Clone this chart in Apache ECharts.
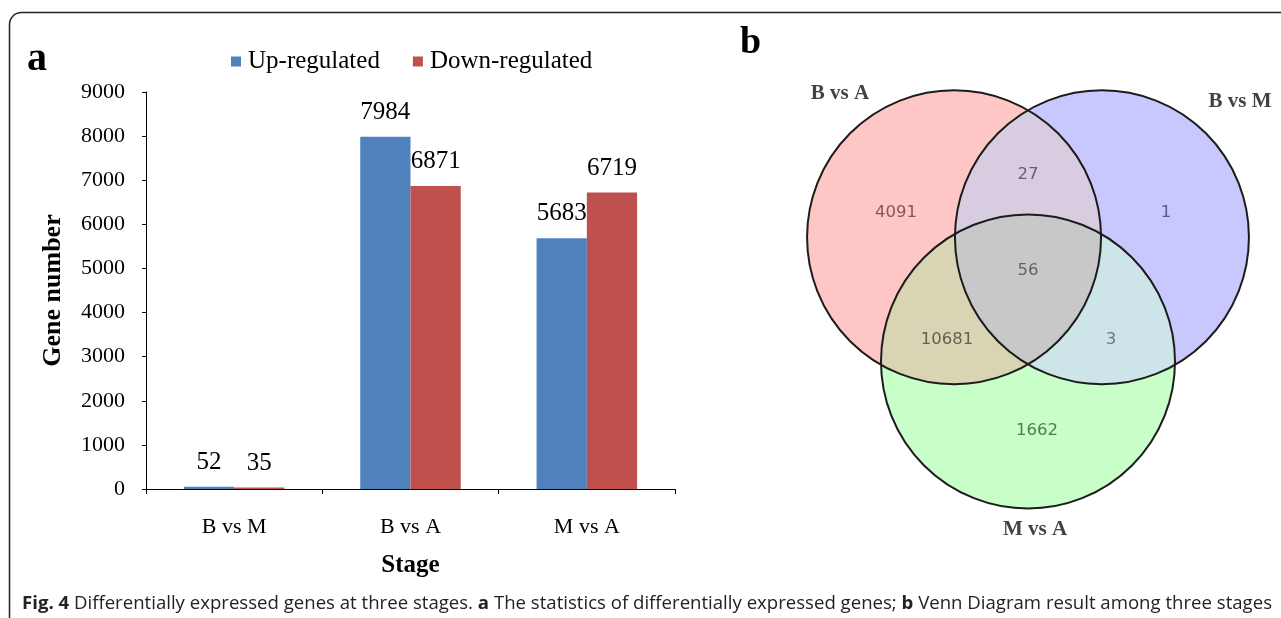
<!DOCTYPE html>
<html>
<head>
<meta charset="utf-8">
<script src="https://cdn.jsdelivr.net/npm/echarts@6/dist/echarts.min.js"></script>
<style>
  html, body { margin: 0; padding: 0; background: #fff; }
  #main { width: 1281px; height: 618px; }
</style>
</head>
<body>
<div id="main"></div>
<script>
// Panel a: differentially expressed genes per comparison
const categories = ['B vs M', 'B vs A', 'M vs A'];
const upRegulated = [52, 7984, 5683];
const downRegulated = [35, 6871, 6719];
const seriesNames = ['Up-regulated', 'Down-regulated'];
const yMax = 9000;
const yStep = 1000;

// Panel b: Venn diagram of the three comparisons
const vennSetNames = ['B vs A', 'B vs M', 'M vs A'];
const vennRegionKeys = ['A', 'AB', 'B', 'ABC', 'AC', 'BC', 'C'];
const vennRegionCounts = [4091, 27, 1, 56, 10681, 3, 1662];

// Venn geometry, in units of one circle radius
const VENN_CENTERS = [[-0.503, 0.42], [0.503, 0.42], [0, -0.425]];
const VENN_COUNT_POS = {
  A: [-0.898, 0.585], AB: [0, 0.844], B: [0.939, 0.585], ABC: [0, 0.19],
  AC: [-0.551, -0.279], BC: [0.565, -0.279], C: [0.061, -0.898]
};
const VENN_NAME_POS = [[-1.279, 1.395], [1.442, 1.34], [0.048, -1.571]];
const VENN_FILL = {
  A: '#ffc6c6', B: '#c8c8fe', C: '#c8fec8',
  AB: '#d8cde0', AC: '#d8d4b4', BC: '#cde4e8', ABC: '#c8c8c8'
};
const VENN_TEXT = {
  A: '#6e3a3a', AB: '#4d3e5c', B: '#3c3c7a', ABC: '#4a4a4a',
  AC: '#4b4232', BC: '#4c5c6c', C: '#2c5e2c'
};
const VENN_SCALE = 147;        // pixels per radius unit
const VENN_ORIGIN = [1028, 299];
const VX = [-2, 1.7], VY = [-2, 2];

const serif = 'Liberation Serif';

function circleMeet(p, q, R) {
  const dx = q[0] - p[0], dy = q[1] - p[1];
  const d = Math.hypot(dx, dy);
  const h = Math.sqrt(Math.max(R * R - d * d / 4, 0));
  const mx = (p[0] + q[0]) / 2, my = (p[1] + q[1]) / 2;
  const ux = -dy / d, uy = dx / d;
  return [[mx + ux * h, my + uy * h], [mx - ux * h, my - uy * h]];
}
function inside(pt, c, R) { return Math.hypot(pt[0] - c[0], pt[1] - c[1]) < R; }
function pt(p) { return p[0].toFixed(2) + ' ' + p[1].toFixed(2); }

function renderVenn(params, api) {
  const P = VENN_CENTERS.map(c => api.coord(c));
  const R = api.size([1, 0])[0];
  const arc = (s, to) => ' A ' + R.toFixed(2) + ' ' + R.toFixed(2) + ' 0 0 ' + s + ' ' + pt(to);
  const lens = (i, j) => {
    const m = circleMeet(P[i], P[j], R);
    return 'M ' + pt(m[0]) + arc(1, m[1]) + arc(1, m[0]) + ' Z';
  };
  const pick = (i, j, k) => circleMeet(P[i], P[j], R).find(x => inside(x, P[k], R + 0.5));
  const vBC = pick(1, 2, 0), vAC = pick(0, 2, 1), vAB = pick(0, 1, 2);
  const cross = (vAC[0] - vBC[0]) * (vAB[1] - vBC[1]) - (vAC[1] - vBC[1]) * (vAB[0] - vBC[0]);
  const s = cross > 0 ? 1 : 0;
  const triple = 'M ' + pt(vBC) + arc(s, vAC) + arc(s, vAB) + arc(s, vBC) + ' Z';

  const children = [];
  ['A', 'B', 'C'].forEach((k, i) => children.push({
    type: 'circle', shape: { cx: P[i][0], cy: P[i][1], r: R }, style: { fill: VENN_FILL[k] }
  }));
  [['AB', 0, 1], ['AC', 0, 2], ['BC', 1, 2]].forEach(([k, i, j]) => children.push({
    type: 'path', shape: { pathData: lens(i, j) }, style: { fill: VENN_FILL[k] }
  }));
  children.push({ type: 'path', shape: { pathData: triple }, style: { fill: VENN_FILL.ABC } });
  P.forEach(c => children.push({
    type: 'circle', shape: { cx: c[0], cy: c[1], r: R },
    style: { fill: 'none', stroke: '#1c1c1c', lineWidth: 2 }
  }));
  return { type: 'group', children };
}

const chart = echarts.init(document.getElementById('main'), null, { renderer: 'canvas' });

const barLabel = {
  show: true, position: 'top', distance: 12,
  fontFamily: serif, fontSize: 25, color: '#000'
};

const option = {
  animation: false,
  backgroundColor: '#fff',
  textStyle: { fontFamily: serif },
  legend: {
    data: seriesNames,
    left: 231, top: 49, padding: 0,
    itemWidth: 10, itemHeight: 10, itemGap: 33,
    icon: 'rect',
    textStyle: { fontFamily: serif, fontSize: 25, color: '#000', padding: [0, 0, 0, 2] }
  },
  grid: [
    { left: 146, top: 92, width: 529, height: 397 },
    {
      left: VENN_ORIGIN[0] + VX[0] * VENN_SCALE,
      top: VENN_ORIGIN[1] - VY[1] * VENN_SCALE,
      width: (VX[1] - VX[0]) * VENN_SCALE,
      height: (VY[1] - VY[0]) * VENN_SCALE
    }
  ],
  xAxis: [
    {
      type: 'category', data: categories, gridIndex: 0,
      name: 'Stage', nameLocation: 'middle', nameGap: 64,
      nameTextStyle: { fontFamily: serif, fontSize: 25, fontWeight: 'bold', color: '#000' },
      axisLine: { lineStyle: { color: '#000', width: 1 } },
      axisTick: { show: true, length: 5, inside: false, lineStyle: { color: '#000' } },
      axisLabel: { fontFamily: serif, fontSize: 22, color: '#000', margin: 27 }
    },
    { type: 'value', gridIndex: 1, min: VX[0], max: VX[1], show: false }
  ],
  yAxis: [
    {
      type: 'value', gridIndex: 0, min: 0, max: yMax, interval: yStep,
      name: 'Gene number', nameLocation: 'middle', nameGap: 80, nameRotate: 90,
      nameTextStyle: { fontFamily: serif, fontSize: 26, fontWeight: 'bold', color: '#000' },
      axisLine: { show: true, lineStyle: { color: '#000', width: 1 } },
      axisTick: { show: true, length: 4, lineStyle: { color: '#000' } },
      axisLabel: {
        fontFamily: serif, fontSize: 22, color: '#000', margin: 21,
        formatter: v => String(v)
      },
      splitLine: { show: false }
    },
    { type: 'value', gridIndex: 1, min: VY[0], max: VY[1], show: false }
  ],
  series: [
    {
      name: seriesNames[0], type: 'bar', data: upRegulated,
      xAxisIndex: 0, yAxisIndex: 0,
      barGap: '0%', barCategoryGap: '43%',
      itemStyle: { color: '#4f81bd' }, label: barLabel
    },
    {
      name: seriesNames[1], type: 'bar', data: downRegulated,
      xAxisIndex: 0, yAxisIndex: 0,
      itemStyle: { color: '#c0504d' }, label: barLabel
    },
    {
      type: 'custom', xAxisIndex: 1, yAxisIndex: 1, clip: false, silent: true,
      data: [[0, 0]], renderItem: renderVenn, z: 1
    },
    {
      type: 'scatter', xAxisIndex: 1, yAxisIndex: 1, symbolSize: 0, silent: true, z: 5,
      data: vennRegionKeys.map((k, i) => ({
        value: [VENN_COUNT_POS[k][0], VENN_COUNT_POS[k][1], vennRegionCounts[i]],
        label: { color: VENN_TEXT[k] }
      })),
      label: {
        show: true, position: 'inside', formatter: p => String(p.value[2]),
        fontFamily: 'DejaVu Sans', fontSize: 16.5
      }
    },
    {
      type: 'scatter', xAxisIndex: 1, yAxisIndex: 1, symbolSize: 0, silent: true, z: 5,
      data: vennSetNames.map((n, i) => ({ value: VENN_NAME_POS[i], name: n })),
      label: {
        show: true, position: 'inside', formatter: p => p.name,
        fontFamily: serif, fontSize: 21, fontWeight: 'bold', color: '#111'
      }
    }
  ],
  graphic: [
    {
      type: 'rect', z: -10, silent: true,
      shape: { x: 9.5, y: 12.5, width: 1300, height: 640, r: 12 },
      style: { fill: 'none', stroke: '#222', lineWidth: 1.5 }
    },
    {
      type: 'text', left: 27, top: 40,
      style: { text: 'a', fontFamily: serif, fontSize: 40, fontWeight: 'bold', fill: '#000' }
    },
    {
      type: 'text', left: 740, top: 24,
      style: { text: 'b', fontFamily: serif, fontSize: 38, fontWeight: 'bold', fill: '#000' }
    },
    {
      type: 'text', left: 22, top: 594,
      style: {
        text: '{b|Fig. 4} Differentially expressed genes at three stages. {b|a} The statistics of differentially expressed genes; {b|b} Venn Diagram result among three stages',
        fontFamily: 'Open Sans', fontSize: 18.6, fill: '#222',
        rich: { b: { fontFamily: 'Open Sans', fontSize: 18.6, fontWeight: 'bold', fill: '#222' } }
      }
    }
  ]
};

chart.setOption(option);
</script>
</body>
</html>
